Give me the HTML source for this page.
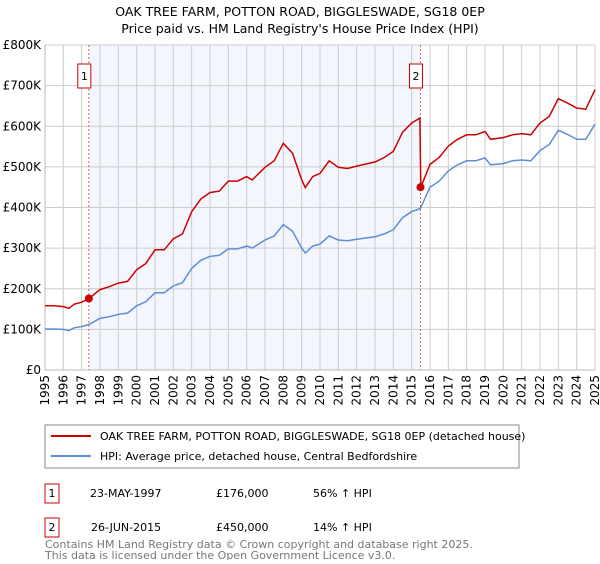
<!DOCTYPE html>
<html><head><meta charset="utf-8"><style>
body{margin:0;background:#fff;font-family:"DejaVu Sans","Liberation Sans",sans-serif;}
svg text{font-family:"DejaVu Sans","Liberation Sans",sans-serif;}
</style></head><body>
<svg id="c" width="600" height="560" xmlns="http://www.w3.org/2000/svg">
<text x="300" y="16" text-anchor="middle" font-size="12.5" fill="#000">OAK TREE FARM, POTTON ROAD, BIGGLESWADE, SG18 0EP</text>
<text x="300" y="33" text-anchor="middle" font-size="12.5" fill="#000">Price paid vs. HM Land Registry's House Price Index (HPI)</text>
<g id="plot"></g>
<rect x="45" y="425" width="474" height="43" fill="#fff" stroke="#888"/>
<line x1="51" y1="436" x2="91" y2="436" stroke="#cc0000" stroke-width="2"/>
<text x="100" y="440" font-size="11">OAK TREE FARM, POTTON ROAD, BIGGLESWADE, SG18 0EP (detached house)</text>
<line x1="51" y1="456" x2="91" y2="456" stroke="#5b8ed6" stroke-width="2"/>
<text x="100" y="460" font-size="11">HPI: Average price, detached house, Central Bedfordshire</text>
<rect x="45" y="484" width="14" height="19" fill="#fff" stroke="#cc0000"/>
<text x="52" y="497" text-anchor="middle" font-size="11">1</text>
<text x="90" y="497" font-size="11">23-MAY-1997</text>
<text x="216" y="497" font-size="11">£176,000</text>
<text x="313" y="497" font-size="11">56% ↑ HPI</text>
<rect x="45" y="518" width="14" height="19" fill="#fff" stroke="#cc0000"/>
<text x="52" y="531" text-anchor="middle" font-size="11">2</text>
<text x="91" y="531" font-size="11">26-JUN-2015</text>
<text x="216" y="531" font-size="11">£450,000</text>
<text x="313" y="531" font-size="11">14% ↑ HPI</text>
<text x="45" y="548" font-size="11" fill="#777">Contains HM Land Registry data © Crown copyright and database right 2025.</text>
<text x="45" y="559" font-size="11" fill="#777">This data is licensed under the Open Government Licence v3.0.</text>
</svg>
<script>
const dates=[1995.0,1995.5,1996.0,1996.3,1996.6,1997.0,1997.4,1998.0,1998.5,1999.0,1999.5,2000.0,2000.5,2001.0,2001.5,2002.0,2002.5,2003.0,2003.5,2004.0,2004.5,2005.0,2005.5,2006.0,2006.3,2007.0,2007.5,2008.0,2008.5,2009.0,2009.2,2009.6,2010.0,2010.5,2011.0,2011.5,2012.0,2012.5,2013.0,2013.5,2014.0,2014.5,2015.0,2015.45,2015.5,2016.0,2016.5,2017.0,2017.5,2018.0,2018.5,2019.0,2019.3,2020.0,2020.5,2021.0,2021.5,2022.0,2022.5,2023.0,2023.5,2024.0,2024.5,2025.0];
const hpiValues=[101,101,100,97,104,107,112,127,131,137,140,158,168,190,190,207,215,250,270,280,282,298,298,305,300,320,330,358,342,300,288,305,310,330,320,318,322,325,328,335,345,375,390,397,400,450,465,490,505,515,515,522,505,508,515,517,515,540,555,590,580,568,568,605];
const priceValues=[158,158,156,152,162,167,176,198,205,214,218,247,262,296,296,323,335,390,421,437,440,465,465,476,468,499,515,558,534,468,449,476,484,515,499,496,502,507,512,523,538,585,608,620,450,506,523,551,568,579,579,587,568,572,579,582,579,608,624,668,657,645,642,690];
const saleDates=[1997.39,2015.48];
const salePrices=[176,450];
const saleLabels=["1","2"];
const yTicks=[0,100,200,300,400,500,600,700,800];
const yTickLabels=["£0","£100K","£200K","£300K","£400K","£500K","£600K","£700K","£800K"];
const xYears=[1995,1996,1997,1998,1999,2000,2001,2002,2003,2004,2005,2006,2007,2008,2009,2010,2011,2012,2013,2014,2015,2016,2017,2018,2019,2020,2021,2022,2023,2024,2025];

const NS="http://www.w3.org/2000/svg";
const g=document.getElementById('plot');
const X0=45,X1=595,Y0=370,Y1=45;
const xs=t=>X0+(t-1995)/30*(X1-X0);
const ys=v=>Y0-v/800*(Y0-Y1);
function mk(tag,attrs){const e=document.createElementNS(NS,tag);for(const k in attrs)e.setAttribute(k,attrs[k]);g.appendChild(e);return e;}

let bg=mk('rect',{x:X0,y:Y1,width:X1-X0,height:Y0-Y1,fill:'#fff'});


let sh=mk('rect',{x:xs(saleDates[0]),y:Y1,width:xs(saleDates[1])-xs(saleDates[0]),height:Y0-Y1,fill:'#f3f6fd'});


yTicks.forEach((v,i)=>{
  let l=mk('line',{x1:X0,x2:X1,y1:ys(v),y2:ys(v),stroke:'#ccc','stroke-width':1});
  
  
  let t=mk('text',{x:X0-4,y:ys(v)+4,'text-anchor':'end','font-size':12});
  t.textContent=yTickLabels[i];
  
  
});
xYears.forEach(yr=>{
  let l=mk('line',{x1:xs(yr),x2:xs(yr),y1:Y1,y2:Y0,stroke:'#ccc','stroke-width':1});
  
  
  let t=mk('text',{x:0,y:0,'text-anchor':'end','font-size':12,transform:`translate(${xs(yr)+4},${Y0+5}) rotate(-90)`});
  t.textContent=yr;
  
  
});
let ax=mk('path',{d:`M${X0},${Y1}V${Y0}H${X1}`,fill:'none',stroke:'#bbb'});


saleDates.forEach((d,i)=>{
  let l=mk('line',{x1:xs(d),x2:xs(d),y1:Y1,y2:Y0,stroke:'#e06060','stroke-dasharray':'2,2','stroke-width':1});
  
  
  let r=mk('rect',{x:xs(d)-11,y:64,width:13,height:24,fill:'#fff',stroke:'#cc0000'});
  
  
  let t=mk('text',{x:xs(d)-4.5,y:80,'text-anchor':'middle','font-size':11});
  t.textContent=saleLabels[i];
  
  
});
const line=vals=>dates.map((d,i)=>(i?'L':'M')+xs(d).toFixed(1)+','+ys(vals[i]).toFixed(1)).join('');
let hp=mk('path',{d:line(hpiValues),fill:'none',stroke:'#5b8ed6','stroke-width':1.5});


let pp=mk('path',{d:line(priceValues),fill:'none',stroke:'#cc0000','stroke-width':1.5});


saleDates.forEach((d,i)=>{
  let c=mk('circle',{cx:xs(d),cy:ys(salePrices[i]),r:4,fill:'#cc0000'});
  
  
});
</script>
</body></html>
